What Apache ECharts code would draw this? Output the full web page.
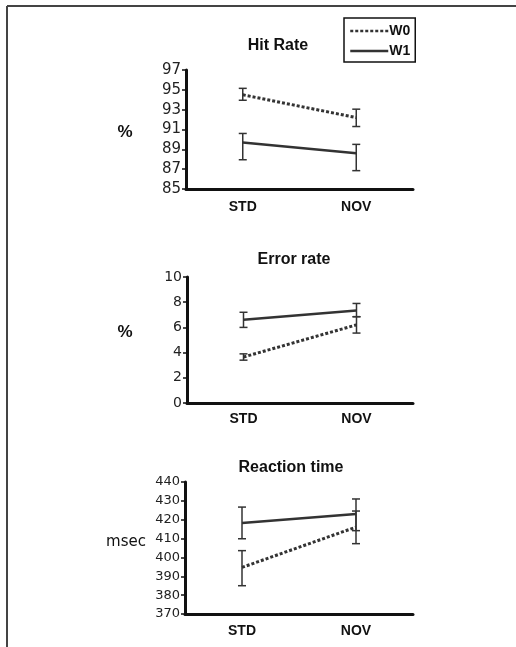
<!DOCTYPE html>
<html>
<head>
<meta charset="utf-8">
<script src="https://cdn.jsdelivr.net/npm/echarts@6/dist/echarts.min.js"></script>
<style>
    html, body { margin: 0; padding: 0; background: #fff; }
    #chart { width: 516px; height: 647px; }
</style>
</head>
<body>
<div id="chart"></div>
<script>
// categories
var categories = ['STD', 'NOV'];

// Hit rate (%)
var hitTicks = [85, 87, 89, 91, 93, 95, 97];
var hitW0 = [94.5, 92.2];
var hitW0Lo = [93.95, 91.3];
var hitW0Hi = [95.15, 93.05];
var hitW1 = [89.7, 88.6];
var hitW1Lo = [87.95, 86.85];
var hitW1Hi = [90.6, 89.5];

// Error rate (%)
var errTicks = [0, 2, 4, 6, 8, 10];
var errW0 = [3.65, 6.2];
var errW0Lo = [3.4, 5.55];
var errW0Hi = [3.9, 6.85];
var errW1 = [6.6, 7.35];
var errW1Lo = [6.0, 6.85];
var errW1Hi = [7.2, 7.9];

// Reaction time (msec)
var rtTicks = [370, 380, 390, 400, 410, 420, 430, 440];
var rtW0 = [394.7, 416.1];
var rtW0Lo = [385, 407.3];
var rtW0Hi = [403.6, 424.6];
var rtW1 = [418.3, 423];
var rtW1Lo = [409.9, 414.2];
var rtW1Hi = [426.7, 431];

var lineColor = '#333';

function barData(lo, hi) {
    var out = [];
    for (var i = 0; i < lo.length; i++) {
        out.push([i, lo[i], hi[i]]);
    }
    return out;
}

// vertical error bar with caps
function errorBarItem(params, api) {
    var x = api.value(0);
    var lo = api.coord([x, api.value(1)]);
    var hi = api.coord([x, api.value(2)]);
    var half = 4;
    var style = { stroke: lineColor, lineWidth: 1.5 };
    return {
        type: 'group',
        children: [
            { type: 'line', shape: { x1: lo[0], y1: lo[1], x2: hi[0], y2: hi[1] }, style: style },
            { type: 'line', shape: { x1: lo[0] - half, y1: lo[1], x2: lo[0] + half, y2: lo[1] }, style: style },
            { type: 'line', shape: { x1: hi[0] - half, y1: hi[1], x2: hi[0] + half, y2: hi[1] }, style: style }
        ]
    };
}

function xAxisFor(idx, margin) {
    return {
        type: 'category',
        gridIndex: idx,
        data: categories,
        axisLine: { lineStyle: { color: '#111', width: 3 } },
        axisTick: { alignWithLabel: true, length: 5, lineStyle: { color: '#111', width: 1.5 } },
        axisLabel: { color: '#111', fontFamily: 'Liberation Sans', fontWeight: 'bold', fontSize: 14, margin: margin }
    };
}

function yAxisFor(idx, ticks, fontSize) {
    return {
        type: 'value',
        gridIndex: idx,
        min: ticks[0],
        max: ticks[ticks.length - 1],
        splitLine: { show: false },
        axisLine: { show: true, lineStyle: { color: '#111', width: 3 } },
        axisTick: { show: true, length: 4, customValues: ticks, lineStyle: { color: '#111', width: 1.5 } },
        axisLabel: { customValues: ticks, color: '#222', fontFamily: 'DejaVu Sans', fontSize: fontSize, margin: 5 }
    };
}

function lineSeries(name, idx, values, dotted) {
    return {
        name: name,
        type: 'line',
        xAxisIndex: idx,
        yAxisIndex: idx,
        data: values,
        symbol: 'none',
        silent: true,
        lineStyle: { color: lineColor, width: dotted ? 3 : 2.5, type: dotted ? [3, 2] : 'solid' },
        itemStyle: { color: lineColor }
    };
}

function barSeries(idx, lo, hi) {
    return {
        type: 'custom',
        xAxisIndex: idx,
        yAxisIndex: idx,
        renderItem: errorBarItem,
        data: barData(lo, hi),
        encode: { x: 0, y: [1, 2] },
        z: 3
    };
}

var chart = echarts.init(document.getElementById('chart'));
chart.setOption({
    backgroundColor: '#fff',
    animation: false,
    title: [
        { text: 'Hit Rate', left: 273, top: 33, textAlign: 'center',
          textStyle: { fontFamily: 'Liberation Sans', fontSize: 16, fontWeight: 'bold', color: '#111' } },
        { text: 'Error rate', left: 289, top: 247, textAlign: 'center',
          textStyle: { fontFamily: 'Liberation Sans', fontSize: 16, fontWeight: 'bold', color: '#111' } },
        { text: 'Reaction time', left: 286, top: 455, textAlign: 'center',
          textStyle: { fontFamily: 'Liberation Sans', fontSize: 16, fontWeight: 'bold', color: '#111' } }
    ],
    legend: {
        orient: 'vertical',
        left: 344,
        top: 18,
        padding: [6, 5, 4, 5],
        itemWidth: 38,
        itemHeight: 14,
        itemGap: 6,
        borderColor: '#111',
        borderWidth: 1.5,
        itemStyle: { opacity: 0 },
        lineStyle: { width: 2.5 },
        data: ['W0', 'W1'],
        textStyle: { fontFamily: 'Liberation Sans', fontWeight: 'bold', fontSize: 14, color: '#111', padding: [0, 0, 0, -4] }
    },
    grid: [
        { left: 186, top: 70, width: 227, height: 119 },
        { left: 187, top: 277, width: 226, height: 126 },
        { left: 185, top: 482, width: 228, height: 132 }
    ],
    xAxis: [xAxisFor(0, 11), xAxisFor(1, 9), xAxisFor(2, 10)],
    yAxis: [yAxisFor(0, hitTicks, 15), yAxisFor(1, errTicks, 14), yAxisFor(2, rtTicks, 13)],
    graphic: [
        { type: 'line', shape: { x1: 7, y1: 6, x2: 516, y2: 6 }, style: { stroke: '#444', lineWidth: 2 } },
        { type: 'line', shape: { x1: 7, y1: 6, x2: 7, y2: 647 }, style: { stroke: '#444', lineWidth: 2 } },
        { type: 'text', x: 125, y: 132, style: { text: '%', fontFamily: 'Liberation Sans', fontWeight: 'bold', fontSize: 17, fill: '#111', align: 'center', verticalAlign: 'middle' } },
        { type: 'text', x: 125, y: 332, style: { text: '%', fontFamily: 'Liberation Sans', fontWeight: 'bold', fontSize: 17, fill: '#111', align: 'center', verticalAlign: 'middle' } },
        { type: 'text', x: 126, y: 542, style: { text: 'msec', fontFamily: 'DejaVu Sans', fontSize: 15, fill: '#111', align: 'center', verticalAlign: 'middle' } }
    ],
    series: [
        lineSeries('W0', 0, hitW0, true),
        lineSeries('W1', 0, hitW1, false),
        barSeries(0, hitW0Lo, hitW0Hi),
        barSeries(0, hitW1Lo, hitW1Hi),
        lineSeries('W0', 1, errW0, true),
        lineSeries('W1', 1, errW1, false),
        barSeries(1, errW0Lo, errW0Hi),
        barSeries(1, errW1Lo, errW1Hi),
        lineSeries('W0', 2, rtW0, true),
        lineSeries('W1', 2, rtW1, false),
        barSeries(2, rtW0Lo, rtW0Hi),
        barSeries(2, rtW1Lo, rtW1Hi)
    ]
});
</script>
</body>
</html>
